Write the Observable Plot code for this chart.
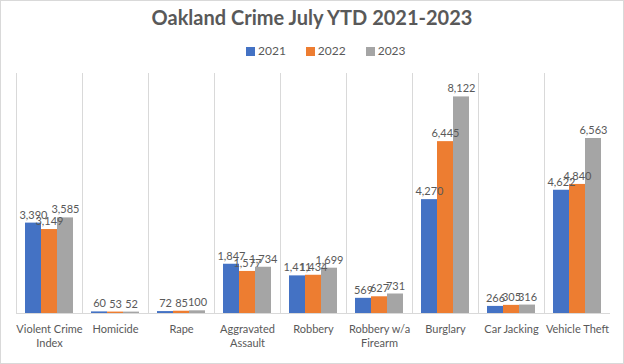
<!DOCTYPE html>
<html>
<head>
<meta charset="utf-8">
<script src="https://cdn.jsdelivr.net/npm/d3@7"></script>
<script src="https://cdn.jsdelivr.net/npm/@observablehq/plot@0.6"></script>
<style>
  body { margin: 0; background: #fff; }
  #wrap { position: relative; width: 624px; height: 364px; font-family: Lato, "Liberation Sans", sans-serif; color: #595959; }
  #border { position: absolute; left: 0; top: 0; width: 622px; height: 362px; border: 1px solid #d9d9d9; }
  #title { position: absolute; top: 5px; left: 0; width: 624px; text-align: center; font-weight: bold; font-size: 20px; line-height: 24px; color: #595959; }
  #legend { position: absolute; top: 44px; left: 246px; display: flex; font-size: 12px; line-height: 14px; }
  .item { display: flex; align-items: center; margin-right: 20px; }
  .sw { width: 9px; height: 9px; margin-right: 3px; }
  #plot { position: absolute; top: 62px; left: 0; }
</style>
</head>
<body>
<div id="wrap">
  <div id="border"></div>
  <div id="title">Oakland Crime July YTD 2021-2023</div>
  <div id="legend"></div>
  <div id="plot"></div>
</div>
<script>
const categories = ["Violent Crime Index", "Homicide", "Rape", "Aggravated Assault", "Robbery", "Robbery w/a Firearm", "Burglary", "Car Jacking", "Vehicle Theft"];
const tickLabels = ["Violent Crime\nIndex", "Homicide", "Rape", "Aggravated\nAssault", "Robbery", "Robbery w/a\nFirearm", "Burglary", "Car Jacking", "Vehicle Theft"];
const years = ["2021", "2022", "2023"];
const colors = ["#4472C4", "#ED7D31", "#A5A5A5"];
const v2021 = [3390, 60, 72, 1847, 1411, 569, 4270, 266, 4622];
const v2022 = [3149, 53, 85, 1577, 1434, 627, 6445, 305, 4840];
const v2023 = [3585, 52, 100, 1734, 1699, 731, 8122, 316, 6563];
const series = [v2021, v2022, v2023];

const data = categories.flatMap((c, i) => years.map((y, j) => ({category: c, year: y, value: series[j][i]})));

const legend = document.getElementById("legend");
years.forEach((y, j) => {
  const it = document.createElement("div");
  it.className = "item";
  it.innerHTML = `<div class="sw" style="background:${colors[j]}"></div><span>${y}</span>`;
  legend.appendChild(it);
});

const fmt = d3.format(",");
const chart = Plot.plot({
  width: 624,
  height: 300,
  marginLeft: 14,
  marginRight: 12,
  marginTop: 11,
  marginBottom: 49,
  style: {fontFamily: "Lato, 'Liberation Sans', sans-serif", color: "#595959", background: "transparent"},
  fx: {domain: categories, padding: 0, label: null},
  x: {domain: years, paddingInner: 0, paddingOuter: 0.5, axis: null},
  y: {domain: [0, 9000], axis: null},
  color: {domain: years, range: colors},
  marks: [
    Plot.frame({anchor: "left", stroke: "#d9d9d9"}),
    Plot.barY(data, {fx: "category", x: "year", y: "value", fill: "year"}),
    Plot.ruleY([0], {stroke: "#d9d9d9"}),
    Plot.text(data, {fx: "category", x: "year", y: "value", text: d => fmt(d.value), dy: -8, fontSize: 11, fill: "#595959"}),
    Plot.axisFx({anchor: "bottom", tickSize: 0, tickPadding: 10, fontSize: 11, lineHeight: 1.25, label: null,
      tickFormat: c => tickLabels[categories.indexOf(c)], fill: "#595959"})
  ]
});
document.getElementById("plot").appendChild(chart);
</script>
</body>
</html>
